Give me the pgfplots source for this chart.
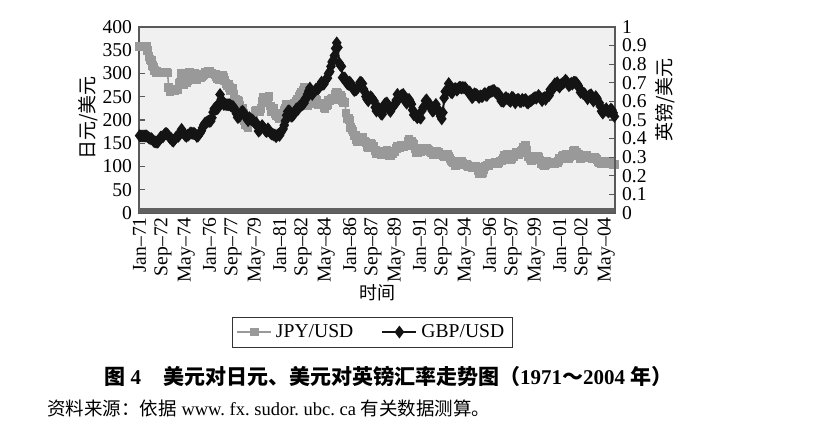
\documentclass[border=0pt]{standalone}
\usepackage{fontspec}
\setmainfont{Liberation Serif}
\newfontfamily\cjk{Noto Sans CJK SC}
\usepackage{pgfplots}
\usepackage{pgfplotstable}
\pgfplotsset{compat=1.18}

% JPY per USD, monthly, Jan 1971 - Dec 2004
\pgfplotstableread[row sep=crcr]{
v\\
358\\358\\358\\358\\358\\358\\358\\350\\336\\330\\328\\318\\
314\\306\\303\\304\\303\\302\\301\\301\\301\\301\\302\\302\\
301\\270\\262\\265\\265\\265\\264\\265\\265\\266\\279\\280\\
300\\287\\277\\280\\281\\285\\297\\303\\299\\299\\300\\301\\
298\\287\\291\\293\\292\\294\\296\\298\\302\\302\\303\\305\\
304\\301\\300\\299\\299\\298\\294\\289\\287\\292\\295\\296\\
292\\285\\279\\274\\277\\270\\263\\267\\267\\255\\244\\241\\
242\\241\\231\\222\\226\\214\\199\\190\\189\\184\\199\\196\\
197\\201\\207\\218\\220\\218\\217\\219\\224\\239\\248\\240\\
238\\245\\249\\250\\230\\218\\220\\224\\214\\209\\212\\208\\
202\\206\\208\\215\\220\\224\\233\\233\\229\\233\\223\\219\\
225\\236\\241\\244\\237\\251\\255\\259\\263\\271\\256\\235\\
232\\236\\238\\237\\235\\240\\240\\245\\243\\233\\235\\234\\
233\\234\\226\\225\\230\\233\\243\\242\\245\\246\\243\\245\\
254\\260\\258\\252\\252\\249\\241\\237\\237\\215\\204\\203\\
200\\184\\179\\175\\167\\167\\158\\154\\154\\156\\162\\162\\
154\\153\\151\\143\\140\\145\\150\\147\\143\\143\\135\\128\\
127\\129\\127\\125\\125\\127\\133\\133\\134\\129\\123\\123\\
127\\128\\131\\133\\138\\144\\141\\141\\145\\142\\143\\144\\
145\\146\\154\\159\\154\\153\\149\\147\\139\\130\\129\\134\\
134\\131\\137\\138\\139\\139\\138\\137\\135\\131\\130\\129\\
126\\128\\133\\133\\130\\127\\126\\127\\123\\121\\124\\124\\
125\\121\\117\\113\\110\\108\\108\\103\\105\\107\\108\\109\\
111\\106\\105\\104\\104\\103\\99\\100\\99\\98\\98\\100\\
100\\99\\91\\84\\85\\85\\87\\94\\100\\101\\102\\102\\
106\\106\\106\\107\\106\\109\\109\\107\\109\\112\\112\\114\\
118\\123\\122\\126\\119\\115\\115\\118\\121\\121\\125\\130\\
129\\125\\129\\132\\135\\141\\141\\145\\135\\121\\121\\117\\
113\\116\\120\\120\\122\\121\\120\\114\\107\\106\\105\\103\\
105\\110\\107\\106\\108\\106\\108\\108\\106\\108\\109\\112\\
117\\116\\121\\124\\122\\122\\125\\122\\118\\121\\123\\125\\
132\\134\\131\\131\\127\\124\\118\\119\\121\\123\\121\\123\\
119\\119\\119\\120\\117\\119\\119\\118\\115\\110\\109\\108\\
106\\107\\109\\107\\112\\110\\109\\111\\110\\109\\105\\104\\
}\jpy

% GBP per USD, monthly, Jan 1971 - Dec 2004
\pgfplotstableread[row sep=crcr]{
v\\
0.416\\0.414\\0.414\\0.414\\0.414\\0.414\\0.414\\0.410\\0.404\\0.400\\0.400\\0.395\\
0.386\\0.383\\0.382\\0.380\\0.383\\0.395\\0.408\\0.408\\0.409\\0.419\\0.427\\0.427\\
0.423\\0.412\\0.403\\0.402\\0.389\\0.386\\0.396\\0.405\\0.412\\0.411\\0.418\\0.431\\
0.450\\0.436\\0.426\\0.417\\0.412\\0.418\\0.419\\0.427\\0.431\\0.428\\0.428\\0.427\\
0.422\\0.412\\0.413\\0.424\\0.431\\0.442\\0.458\\0.473\\0.483\\0.486\\0.490\\0.494\\
0.493\\0.494\\0.512\\0.542\\0.560\\0.566\\0.560\\0.562\\0.590\\0.637\\0.612\\0.596\\
0.584\\0.585\\0.583\\0.582\\0.582\\0.582\\0.578\\0.574\\0.573\\0.565\\0.551\\0.534\\
0.514\\0.515\\0.523\\0.541\\0.547\\0.543\\0.528\\0.515\\0.510\\0.496\\0.513\\0.505\\
0.502\\0.499\\0.490\\0.483\\0.485\\0.466\\0.440\\0.445\\0.455\\0.470\\0.462\\0.454\\
0.441\\0.438\\0.453\\0.445\\0.432\\0.425\\0.424\\0.420\\0.419\\0.410\\0.419\\0.421\\
0.417\\0.431\\0.443\\0.452\\0.472\\0.496\\0.525\\0.546\\0.550\\0.545\\0.520\\0.522\\
0.528\\0.541\\0.557\\0.562\\0.558\\0.574\\0.578\\0.580\\0.584\\0.591\\0.615\\0.617\\
0.639\\0.656\\0.672\\0.648\\0.637\\0.647\\0.655\\0.665\\0.667\\0.667\\0.675\\0.689\\
0.704\\0.692\\0.693\\0.711\\0.721\\0.725\\0.750\\0.760\\0.788\\0.812\\0.822\\0.846\\
0.885\\0.915\\0.890\\0.807\\0.795\\0.788\\0.728\\0.725\\0.726\\0.706\\0.695\\0.692\\
0.704\\0.698\\0.680\\0.667\\0.658\\0.662\\0.664\\0.672\\0.683\\0.703\\0.701\\0.696\\
0.666\\0.651\\0.626\\0.612\\0.603\\0.617\\0.625\\0.620\\0.610\\0.602\\0.568\\0.548\\
0.561\\0.564\\0.545\\0.532\\0.531\\0.557\\0.585\\0.588\\0.592\\0.573\\0.555\\0.546\\
0.563\\0.572\\0.578\\0.585\\0.607\\0.638\\0.612\\0.620\\0.630\\0.634\\0.638\\0.619\\
0.598\\0.590\\0.610\\0.611\\0.597\\0.585\\0.554\\0.528\\0.536\\0.521\\0.512\\0.520\\
0.515\\0.510\\0.550\\0.567\\0.574\\0.603\\0.608\\0.592\\0.578\\0.583\\0.562\\0.548\\
0.550\\0.566\\0.584\\0.565\\0.550\\0.537\\0.520\\0.506\\0.540\\0.618\\0.653\\0.650\\
0.656\\0.696\\0.680\\0.648\\0.646\\0.663\\0.667\\0.669\\0.660\\0.668\\0.676\\0.675\\
0.672\\0.675\\0.673\\0.674\\0.665\\0.656\\0.647\\0.651\\0.640\\0.620\\0.626\\0.641\\
0.637\\0.636\\0.628\\0.621\\0.630\\0.627\\0.627\\0.638\\0.643\\0.632\\0.633\\0.649\\
0.650\\0.652\\0.655\\0.659\\0.658\\0.650\\0.643\\0.644\\0.640\\0.621\\0.602\\0.603\\
0.600\\0.614\\0.621\\0.614\\0.613\\0.604\\0.600\\0.622\\0.621\\0.612\\0.592\\0.606\\
0.610\\0.610\\0.599\\0.598\\0.611\\0.604\\0.607\\0.610\\0.594\\0.591\\0.600\\0.603\\
0.606\\0.612\\0.617\\0.621\\0.617\\0.624\\0.632\\0.624\\0.615\\0.604\\0.617\\0.620\\
0.611\\0.627\\0.632\\0.631\\0.664\\0.662\\0.664\\0.674\\0.695\\0.691\\0.701\\0.683\\
0.677\\0.689\\0.694\\0.698\\0.704\\0.714\\0.709\\0.698\\0.684\\0.690\\0.698\\0.693\\
0.702\\0.703\\0.702\\0.695\\0.685\\0.670\\0.648\\0.654\\0.643\\0.643\\0.637\\0.627\\
0.614\\0.628\\0.633\\0.636\\0.614\\0.602\\0.615\\0.626\\0.616\\0.596\\0.592\\0.573\\
0.547\\0.537\\0.546\\0.553\\0.561\\0.548\\0.543\\0.549\\0.559\\0.553\\0.538\\0.519\\
}\gbp

\definecolor{jpycol}{gray}{0.6}
\definecolor{gbpcol}{gray}{0.08}
\definecolor{framecol}{gray}{0.35}

\begin{document}
\begin{tikzpicture}
\path[use as bounding box, fill=white] (0,0) rectangle (409.5pt,211.5pt);

\begin{axis}[
  at={(69.5pt,105pt)}, anchor=south west,
  scale only axis, width=238pt, height=93pt,
  xmin=-0.5, xmax=407.5, ymin=0, ymax=400,
  axis background/.style={fill=black!6},
  axis line style={draw=framecol, line width=0.6pt},
  xtick={0,20,...,400},
  xticklabels={Jan--71,Sep--72,May--74,Jan--76,Sep--77,May--79,Jan--81,Sep--82,May--84,Jan--86,Sep--87,May--89,Jan--91,Sep--92,May--94,Jan--96,Sep--97,May--99,Jan--01,Sep--02,May--04},
  xtick style={draw=none},
  x tick label style={rotate=90, anchor=east, font=\fontsize{9.8}{10}\selectfont, inner sep=2pt},
  ytick={0,50,...,400}, ytick pos=left,
  y tick label style={font=\fontsize{9.8}{10}\selectfont},
  major tick length=3pt,
  tick style={draw=framecol, line width=0.6pt},
  /pgf/number format/assume math mode=true,
  every axis y label/.style={at={(axis description cs:-0.107,0.51)}, rotate=90, anchor=center, font=\cjk\fontsize{9.5}{10}\selectfont},
  ylabel={日元/美元},
  every axis x label/.style={at={(axis description cs:0.502,-0.43)}, anchor=center, font=\cjk\fontsize{9}{10}\selectfont},
  xlabel={时间},
  legend style={at={(axis description cs:0.49,-0.64)}, anchor=center, legend columns=2,
    draw=black!80, line width=0.5pt, font=\fontsize{9.8}{10}\selectfont,
    inner xsep=2pt, inner ysep=1.5pt,
    /tikz/every even column/.append style={column sep=12pt}},
  legend cell align=left,
]
\addplot[color=jpycol, line width=0.8pt, mark=square*, mark size=1.8pt, mark options={fill=jpycol, draw=jpycol}]
  table[x expr=\coordindex, y=v] {\jpy};
\addlegendentry{JPY/USD}
\addlegendimage{color=gbpcol, line width=1pt, mark=diamond*, mark size=2.4pt, mark options={fill=gbpcol}}
\addlegendentry{GBP/USD}
\draw[black!62, line width=2.6pt] (axis cs:-0.5,5.6) -- (axis cs:407.5,5.6);
\end{axis}

\begin{axis}[
  at={(69.5pt,105pt)}, anchor=south west,
  scale only axis, width=238pt, height=93pt,
  xmin=-0.5, xmax=407.5, ymin=0, ymax=1,
  axis x line=none, axis y line*=right,
  axis line style={draw=framecol, line width=0.6pt},
  ytick={0,0.1,...,1.01},
  y tick label style={font=\fontsize{9.8}{10}\selectfont,
    /pgf/number format/.cd, fixed, precision=1},
  major tick length=3pt,
  tick style={draw=framecol, line width=0.6pt},
  /pgf/number format/assume math mode=true,
  every axis y label/.style={at={(axis description cs:1.105,0.607)}, rotate=90, anchor=center, font=\cjk\fontsize{9.5}{10}\selectfont},
  ylabel={英镑/美元},
]
\addplot[color=gbpcol, line width=1pt, mark=diamond*, mark size=2.4pt, mark options={fill=gbpcol, draw=gbpcol}]
  table[x expr=\coordindex, y=v] {\gbp};
\end{axis}

\node[anchor=west, inner sep=0pt, font=\fontsize{10.5}{12}\selectfont] at (52pt,23.5pt)
  {{\cjk\bfseries 图} \textbf{4}\hspace{11pt}{\cjk\bfseries 美元对日元、美元对英镑汇率走势图（}\textbf{1971}{\cjk\bfseries ～}\textbf{2004} {\cjk\bfseries 年）}};
\node[anchor=west, inner sep=0pt, font=\fontsize{9.25}{11}\selectfont] at (23.5pt,7.5pt)
  {{\cjk 资料来源：依据} www.\ fx.\ sudor.\ ubc.\ ca {\cjk 有关数据测算。}};
\end{tikzpicture}
\end{document}
